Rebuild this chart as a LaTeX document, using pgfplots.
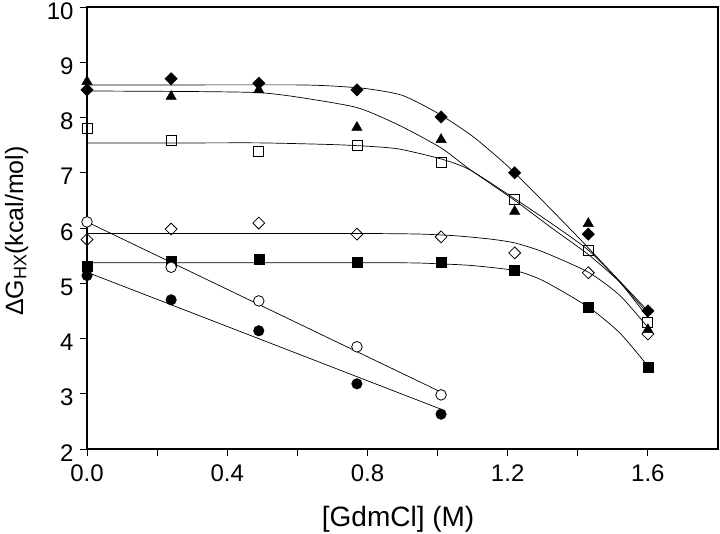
\documentclass[border=0pt]{standalone}
\usepackage{pgfplots}
\pgfplotsset{compat=1.18}
\usepackage{fontspec}
\setmainfont{Liberation Sans}
\begin{document}
\begin{tikzpicture}
\useasboundingbox (-87pt,-84pt) rectangle (633pt,449pt);
\begin{axis}[
  at={(0pt,0pt)}, anchor=south west,
  scale only axis,
  width=631pt, height=442pt,
  xmin=0, xmax=1.8, ymin=2, ymax=10,
  xtick={0,0.4,0.8,1.2,1.6},
  minor xtick={0.2,0.6,1.0,1.4},
  ytick={2,3,4,5,6,7,8,9,10},
  tick pos=left,
  tick align=outside,
  major tick length=7pt, minor tick length=7pt,
  every tick/.style={black, line width=0.8pt},
  axis line style={line width=1.1pt},
  /pgf/number format/assume math mode=true,
  tick label style={font=\fontsize{24}{27}\selectfont},
  xticklabel style={/pgf/number format/fixed, /pgf/number format/fixed zerofill, /pgf/number format/precision=1, yshift=-5pt},
  yticklabel style={/pgf/number format/fixed, text height=17pt, text depth=0pt, xshift=-3pt, yshift=-3.5pt},
  label style={font=\fontsize{25}{28}\selectfont},
  xlabel={\fontsize{28}{31}\selectfont [GdmCl] (M)},
  ylabel={ΔG{\fontsize{18}{20}\selectfont\raisebox{-0.35ex}{HX}}(kcal/mol)},
  xlabel style={at={(axis description cs:0.493,0)}, anchor=base, yshift=-77pt},
  ylabel style={at={(axis description cs:-0.1014,0.493)}, anchor=base},
  clip=false,
]
% fitted curves
\addplot[black, line width=0.7pt, smooth, tension=0.4] coordinates {(0,8.59)(0.3,8.59)(0.6,8.59)(0.7,8.57)(0.8,8.52)(0.9,8.40)(1.0,8.08)(1.1,7.66)(1.2,7.12)(1.3,6.49)(1.4,5.84)(1.5,5.17)(1.6,4.50)};
\addplot[black, line width=0.7pt, smooth, tension=0.4] coordinates {(0,8.48)(0.3,8.47)(0.49,8.45)(0.6,8.37)(0.77,8.18)(0.89,7.86)(1.01,7.45)(1.09,7.07)(1.22,6.50)(1.33,5.98)(1.43,5.52)(1.52,5.02)(1.6,4.45)};
\addplot[black, line width=0.7pt, smooth, tension=0.4] coordinates {(0,7.54)(0.3,7.54)(0.5,7.54)(0.7,7.51)(0.8,7.48)(0.89,7.43)(1.01,7.25)(1.09,7.06)(1.22,6.53)(1.33,6.06)(1.43,5.60)(1.52,5.02)(1.6,4.38)};
\addplot[black, line width=0.7pt, smooth, tension=0.4] coordinates {(0,5.90)(0.4,5.90)(0.8,5.90)(0.95,5.89)(1.05,5.86)(1.15,5.80)(1.22,5.73)(1.3,5.57)(1.43,5.20)(1.52,4.78)(1.6,4.20)};
\addplot[black, line width=0.7pt, smooth, tension=0.4] coordinates {(0,5.37)(0.45,5.37)(0.9,5.37)(1.01,5.35)(1.1,5.32)(1.22,5.23)(1.3,5.05)(1.43,4.57)(1.52,4.10)(1.6,3.50)};
\addplot[black, line width=0.7pt] coordinates {(0,6.11)(1.01,3.03)};
\addplot[black, line width=0.7pt] coordinates {(0,5.20)(1.01,2.72)};
% data markers
\addplot[only marks, mark=square*, mark size=4.4pt, mark options={rotate=45, fill=black, draw=black}] coordinates {(0,8.50)(0.24,8.70)(0.49,8.62)(0.77,8.50)(1.01,8.01)(1.22,7.00)(1.43,5.89)(1.60,4.50)};
\addplot[only marks, mark=triangle*, mark size=6pt, mark options={fill=black, draw=black}] coordinates {(0,8.65)(0.24,8.38)(0.49,8.50)(0.77,7.82)(1.01,7.60)(1.22,6.30)(1.43,6.08)(1.60,4.16)};
\addplot[only marks, mark=square, mark size=5pt, mark options={draw=black, fill=white, line width=0.8pt}] coordinates {(0,7.80)(0.24,7.59)(0.49,7.39)(0.77,7.49)(1.01,7.19)(1.22,6.51)(1.43,5.60)(1.60,4.30)};
\addplot[only marks, mark=square, mark size=4.2pt, mark options={rotate=45, draw=black, fill=white, line width=0.8pt}] coordinates {(0,5.79)(0.24,5.98)(0.49,6.09)(0.77,5.89)(1.01,5.84)(1.22,5.55)(1.43,5.19)(1.60,4.08)};
\addplot[only marks, mark=square*, mark size=5pt, mark options={fill=black, draw=black}] coordinates {(0,5.31)(0.24,5.40)(0.49,5.44)(0.77,5.39)(1.01,5.39)(1.22,5.24)(1.43,4.57)(1.60,3.48)};
\addplot[only marks, mark=*, mark size=5.3pt, mark options={fill=white, draw=black, line width=0.8pt}] coordinates {(0,6.11)(0.24,5.29)(0.49,4.68)(0.77,3.85)(1.01,2.98)};
\addplot[only marks, mark=*, mark size=5.3pt, mark options={fill=black, draw=black}] coordinates {(0,5.14)(0.24,4.70)(0.49,4.14)(0.77,3.18)(1.01,2.63)};
\end{axis}
\end{tikzpicture}
\end{document}
